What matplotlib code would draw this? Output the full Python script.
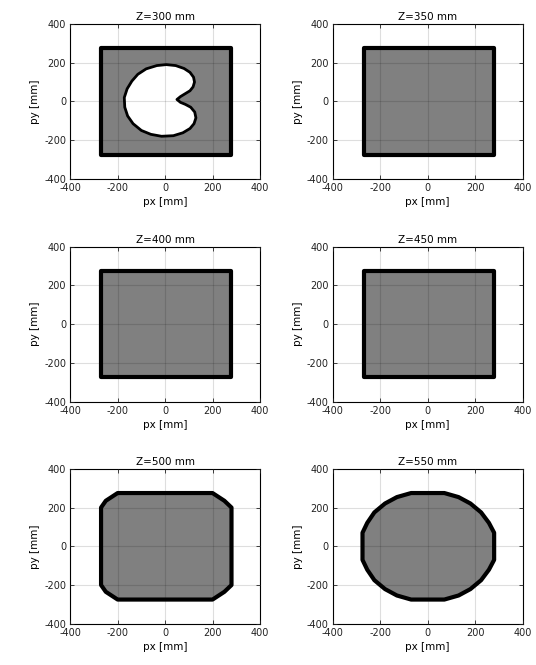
import numpy as np
import matplotlib
matplotlib.use('Agg')
import matplotlib.pyplot as plt
from matplotlib.patches import Polygon

# workspace cross-sections at several heights (boundary vertices in mm)
z_levels = [300, 350, 400, 450, 500, 550]

rect_x = [-270, 280, 280, -270]
rect_y = [275, 275, -275, -275]

# void inside the Z=300 section
hole_x = [50, 65, 85, 105, 118, 124, 120, 105, 80, 45, 5, -35, -80, -115, -140,
          -160, -172, -170, -158, -135, -100, -60, -15, 35, 75, 105, 122, 130,
          125, 108, 85, 65]
hole_y = [10, 25, 40, 55, 75, 100, 125, 150, 170, 185, 190, 185, 168, 140, 105,
          65, 20, -30, -75, -115, -150, -170, -180, -177, -162, -140, -115, -85,
          -55, -30, -15, -5]

oct_x = [-200, 200, 250, 280, 280, 250, 200, -200, -250, -270, -270, -250]
oct_y = [275, 275, 235, 200, -200, -235, -275, -275, -235, -200, 200, 235]

round_x = [-70, 70, 130, 180, 225, 258, 280, 280, 258, 225, 180, 130, 70,
           -70, -130, -180, -225, -255, -275, -275, -255, -225, -180, -130]
round_y = [275, 275, 254, 221, 175, 121, 70, -70, -121, -175, -221, -254, -275,
           -275, -254, -221, -175, -121, -70, 70, 121, 175, 221, 254]

outlines = [(rect_x, rect_y), (rect_x, rect_y), (rect_x, rect_y),
            (rect_x, rect_y), (oct_x, oct_y), (round_x, round_y)]

ticks = [-400, -200, 0, 200, 400]

plt.rcParams['font.size'] = 7
plt.rcParams['axes.unicode_minus'] = False
fig = plt.figure(figsize=(5.36, 6.65), dpi=100)

lefts = [0.131, 0.621]
bottoms = [0.731, 0.396, 0.062]
w, h = 0.354, 0.233

for i, z in enumerate(z_levels):
    r, c = divmod(i, 2)
    ax = fig.add_axes([lefts[c], bottoms[r], w, h])
    bx, by = outlines[i]
    ax.add_patch(Polygon(np.column_stack([bx, by]), closed=True,
                         facecolor='#808080', edgecolor='black', lw=3.0,
                         joinstyle='round', zorder=1))
    if z == 300:
        ax.add_patch(Polygon(np.column_stack([hole_x, hole_y]), closed=True,
                             facecolor='white', edgecolor='black', lw=2.0,
                             joinstyle='round', zorder=2))
    ax.set_xlim(-400, 400)
    ax.set_ylim(-400, 400)
    ax.set_xticks(ticks)
    ax.set_yticks(ticks)
    ax.grid(True, color='black', alpha=0.13, lw=0.8)
    ax.set_axisbelow(False)
    ax.tick_params(direction='in', length=3, width=0.6, top=True, right=True,
                   labelsize=7, pad=3, colors='#222222')
    for s in ax.spines.values():
        s.set_linewidth(0.8)
    ax.set_title('Z=%d mm' % z, fontsize=7.5, pad=3)
    ax.set_xlabel('px [mm]', fontsize=7.5, labelpad=3)
    ax.set_ylabel('py [mm]', fontsize=7.5, labelpad=3)

fig.savefig('out.png', dpi=100)
